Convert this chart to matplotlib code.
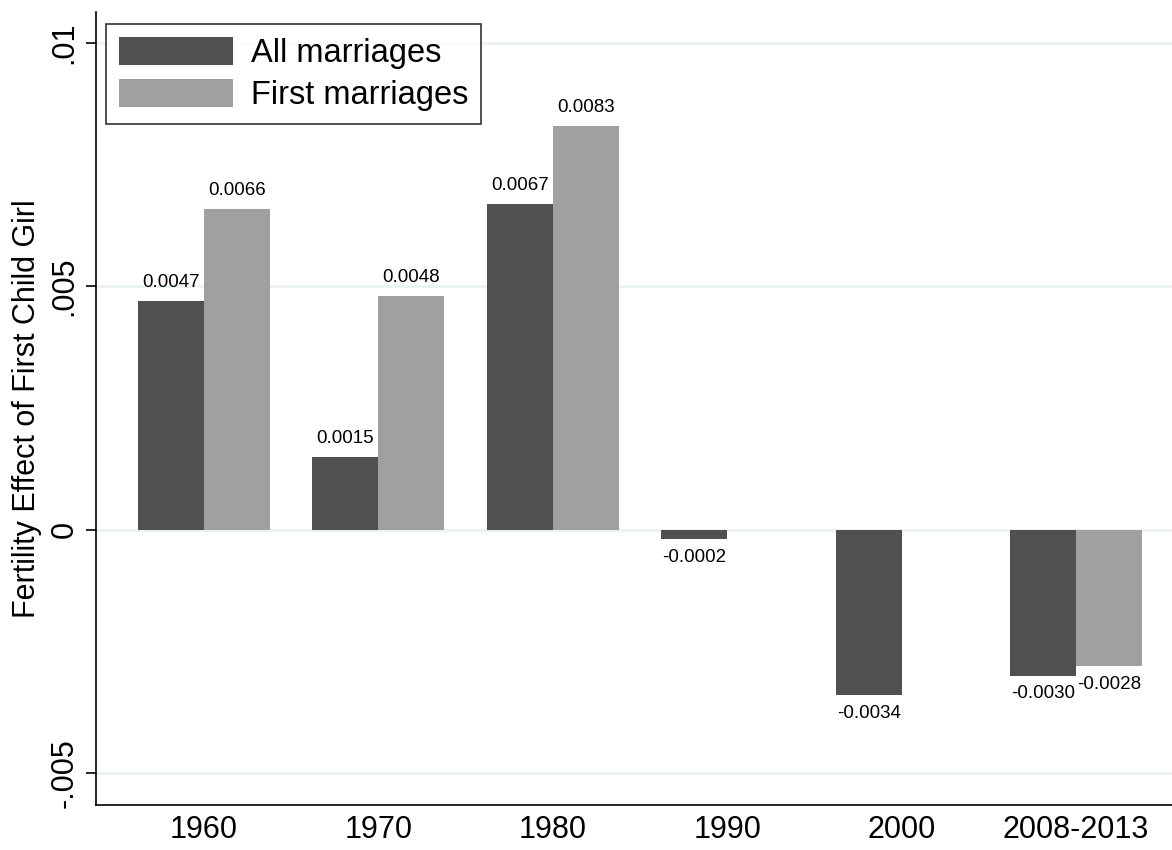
import matplotlib
matplotlib.use("Agg")
import matplotlib.pyplot as plt
import numpy as np

categories = ["1960", "1970", "1980", "1990", "2000", "2008-2013"]
all_marriages = [0.0047, 0.0015, 0.0067, -0.0002, -0.0034, -0.0030]
first_marriages = [0.0066, 0.0048, 0.0083, None, None, -0.0028]
all_labels = ["0.0047", "0.0015", "0.0067", "-0.0002", "-0.0034", "-0.0030"]
first_labels = ["0.0066", "0.0048", "0.0083", None, None, "-0.0028"]
yticks = [-0.005, 0, 0.005, 0.01]
yticklabels = ["-.005", "0", ".005", ".01"]

plt.rcParams['font.family'] = ['Liberation Sans', 'DejaVu Sans']

fig = plt.figure(figsize=(11.72, 8.5), dpi=100)
ax = fig.add_axes([96/1172, 45/850, 1 - 96/1172, (805-12)/850])

dark = "#505050"
light = "#a0a0a0"
w = 0.378
x = np.arange(len(categories))

for i in range(len(categories)):
    v = all_marriages[i]
    ax.bar(x[i] - w/2, v, width=w, color=dark, zorder=2,
           label="All marriages" if i == 0 else None)
    va = 'bottom' if v >= 0 else 'top'
    off = 7 if v >= 0 else -7
    ax.annotate(all_labels[i], (x[i] - w/2, v), xytext=(0, off),
                textcoords='offset points', ha='center', va=va, fontsize=13.5)
    f = first_marriages[i]
    if f is not None:
        ax.bar(x[i] + w/2, f, width=w, color=light, zorder=2,
               label="First marriages" if i == 0 else None)
        va = 'bottom' if f >= 0 else 'top'
        off = 7 if f >= 0 else -7
        ax.annotate(first_labels[i], (x[i] + w/2, f), xytext=(0, off),
                    textcoords='offset points', ha='center', va=va, fontsize=13.5)

ax.set_xlim(-0.619, 5.55)
ax.set_ylim(-0.00566, 0.01064)
ax.set_yticks(yticks)
ax.set_yticklabels(yticklabels, rotation=90, va='center', fontsize=22)
ax.set_xticks(x)
ax.set_xticklabels(categories, fontsize=22)
ax.tick_params(axis='x', length=0, pad=7)
ax.tick_params(axis='y', length=7, width=1.2, pad=5)
ax.yaxis.grid(True, color="#eaf2f3", linewidth=2, zorder=0)
ax.set_axisbelow(True)
for s in ['top', 'right']:
    ax.spines[s].set_visible(False)
ax.spines['left'].set_linewidth(1.2)
ax.spines['bottom'].set_linewidth(1.2)
ax.set_ylabel("Fertility Effect of First Child Girl", fontsize=22, labelpad=5)

leg = ax.legend(loc='upper left', bbox_to_anchor=(0.009, 0.985), fontsize=23.5,
                frameon=True, fancybox=False, edgecolor='black',
                handlelength=3.5, handleheight=0.95, borderpad=0.4,
                labelspacing=0.3, handletextpad=0.55, borderaxespad=0)
leg.get_frame().set_linewidth(1.2)

fig.savefig("out.png", dpi=100)
